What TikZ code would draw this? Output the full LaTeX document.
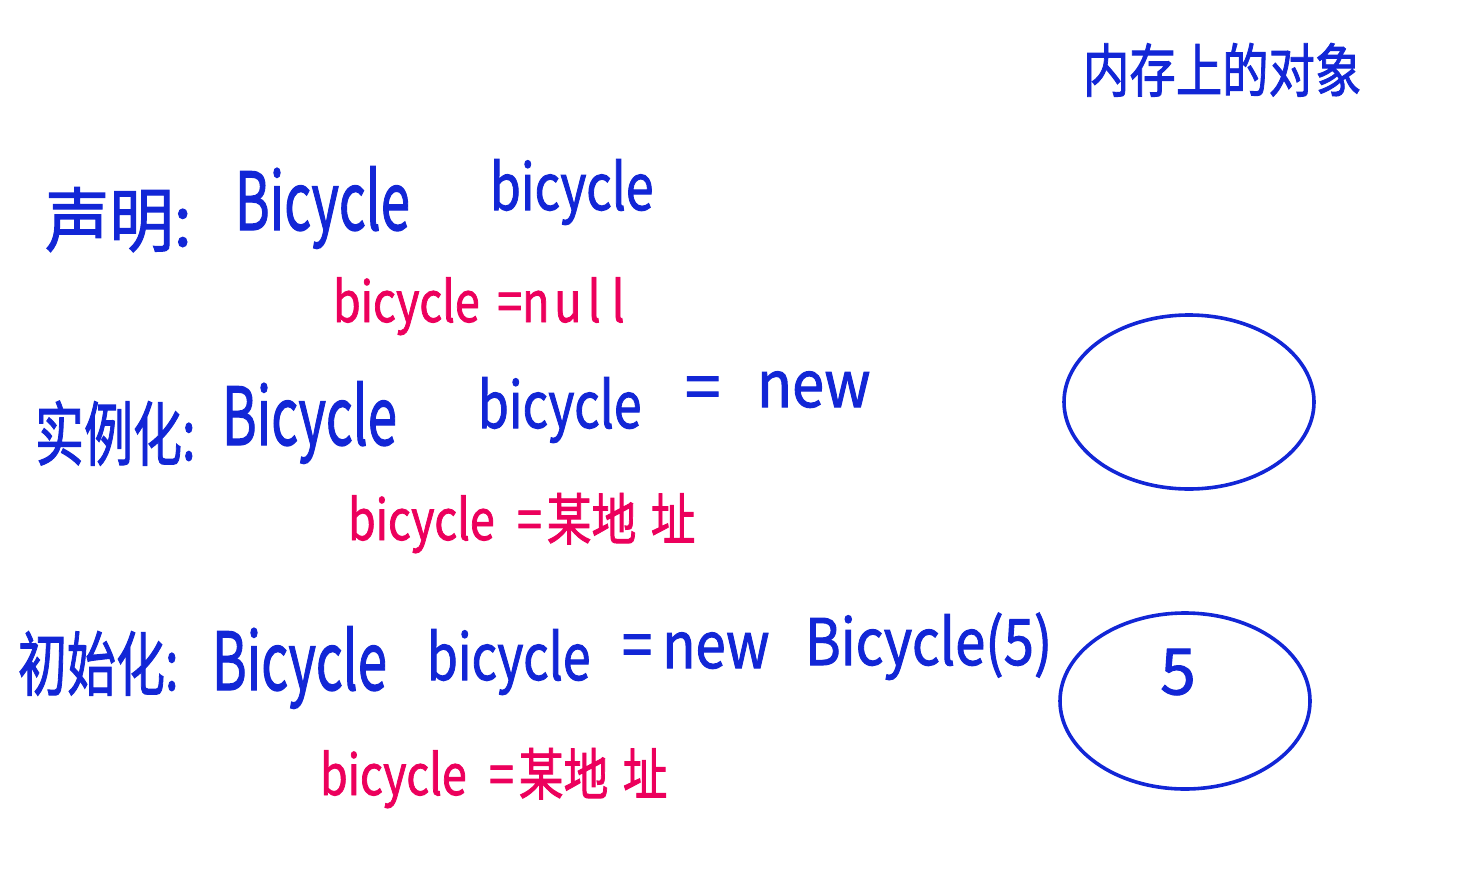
\documentclass[tikz,border=0pt]{standalone}
\usepackage{fontspec}
\setmainfont[FakeBold=1.6,AutoFakeBold=1.6]{Noto Sans CJK SC}
\usepackage{graphicx}
\definecolor{inkblue}{RGB}{18,38,214}
\definecolor{inkpink}{RGB}{236,0,92}
\newcommand{\nar}[2]{\scalebox{#1}[1]{#2}}
\begin{document}
\begin{tikzpicture}[x=1pt,y=-1pt,
  every node/.style={inner sep=0pt,outer sep=0pt,anchor=base west},
  blu/.style={text=inkblue},
  pnk/.style={text=inkpink},
  big/.style={font=\bfseries\fontsize{80}{90}\selectfont},
  mid/.style={font=\bfseries\fontsize{64}{72}\selectfont},
  cjk/.style={font=\bfseries\fontsize{70}{78}\selectfont},
  pk/.style={font=\bfseries\fontsize{56}{62}\selectfont},
  mem/.style={draw=inkblue,line width=3.6pt}]
\useasboundingbox (0,0) rectangle (1463,883);
% title
\node[blu,font=\bfseries\fontsize{58}{64}\selectfont] (title) at (1083,92) {\nar{0.8}{内存上的对象}};
% declaration
\node[blu,cjk] (decl) at (45,246) {\nar{0.92}{声明:}};
\node[blu,big] (cls1) at (235,230) {\nar{0.66}{Bicycle}};
\node[blu,mid] (var1) at (490,210) {\nar{0.78}{bicycle}};
\node[pnk,pk] (res1) at (333,322) {\nar{0.8}{bicycle\hspace{22pt}=n\hspace{6pt}u\hspace{8pt}l\hspace{14pt}l}};
% instantiation
\node[blu,cjk] (inst) at (35,460) {\nar{0.7}{实例化:}};
\node[blu,big] (cls2) at (222,445) {\nar{0.66}{Bicycle}};
\node[blu,mid] (var2) at (478,428) {\nar{0.78}{bicycle}};
\node[blu,mid] (eq2) at (685,410) {=};
\node[blu,mid] (new2) at (757,407) {\nar{0.9}{new}};
\node[pnk,pk] (res2) at (348,540) {\nar{0.8}{bicycle\hspace{28pt}=\hspace{6pt}某地\hspace{18pt}址}};
% initialization
\node[blu,cjk] (init) at (18,690) {\nar{0.7}{初始化:}};
\node[blu,big] (cls3) at (212,690) {\nar{0.66}{Bicycle}};
\node[blu,mid] (var3) at (427,680) {\nar{0.78}{bicycle}};
\node[blu,mid] (new3) at (622,668) {\nar{0.85}{=\hspace{12pt}new}};
\node[blu,mid] (ctor) at (805,665) {\nar{0.85}{Bicycle(5)}};
\node[pnk,pk] (res3) at (320,795) {\nar{0.8}{bicycle\hspace{28pt}=\hspace{6pt}某地\hspace{18pt}址}};
% objects in memory
\draw[mem] (1189,402) ellipse [x radius=125,y radius=87];
\draw[mem] (1185,701) ellipse [x radius=125,y radius=88];
\node[blu,mid,anchor=center] (five) at (1178,672) {5};
\end{tikzpicture}
\end{document}
